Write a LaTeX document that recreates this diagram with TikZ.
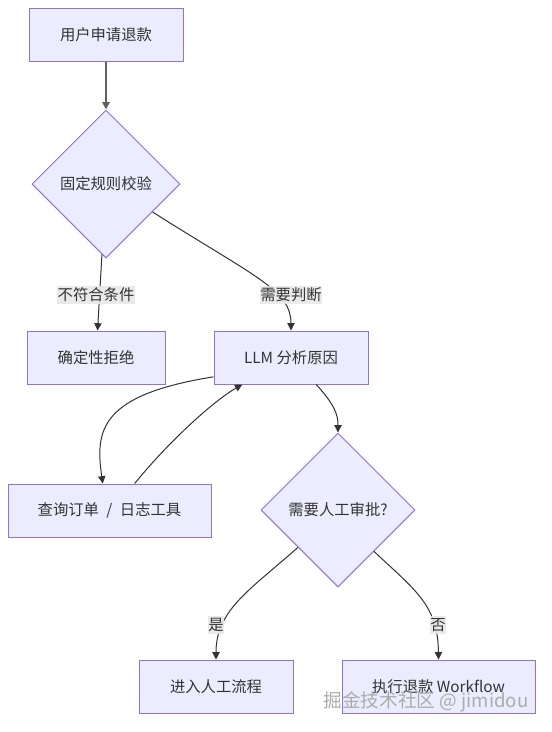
\documentclass[tikz,border=0pt]{standalone}
\usepackage{fontspec}
\setmainfont{Noto Sans CJK SC}
\usetikzlibrary{shapes.geometric,arrows.meta,positioning,calc}
\definecolor{boxfill}{HTML}{ECECFF}
\definecolor{boxline}{HTML}{9370DB}
\definecolor{ink}{HTML}{333333}
\definecolor{labelbg}{HTML}{E8E8E8}
\newcommand{\boxfont}{\fontsize{11.5}{14}\selectfont}

\begin{document}
\begin{tikzpicture}[x=0.75pt,y=0.75pt,
    proc/.style={rectangle,draw=boxline,fill=boxfill,line width=0.75pt,minimum height=39.75pt,inner sep=0pt,text=ink,font=\boxfont},
    decide/.style={diamond,aspect=1,draw=boxline,fill=boxfill,line width=0.75pt,inner sep=0pt,text=ink,font=\boxfont},
    flow/.style={draw=ink,line width=0.75pt,-{Triangle[length=5.5pt,width=5.5pt]}},
    elabel/.style={fill=labelbg,fill opacity=0.9,text opacity=1,text=ink,inner xsep=0.5pt,inner ysep=1.5pt,font=\boxfont}]
    \fill[white] (0,0) rectangle (551,-732);
    \useasboundingbox (0,0) rectangle (551,-732);

    % Process boxes
    \node[proc,minimum width=115.5pt] (apply) at (106,-34.5) {用户申请退款};
    \node[proc,minimum width=103.5pt] (reject) at (96,-357.5) {确定性拒绝};
    \node[proc,minimum width=115.5pt] (llm) at (291,-357.5) {LLM 分析原因};
    \node[proc,minimum width=152.25pt] (tools) at (109.5,-510.5) {查询订单\hspace{3pt} / \hspace{3pt}日志工具};
    \node[proc,minimum width=115.5pt] (manual) at (216,-686.5) {进入人工流程};
    \node[proc,minimum width=144.75pt] (refund) at (438.5,-686.5) {执行退款 Workflow};

    % Decisions
    \node[decide,minimum size=111pt] (rules) at (106,-184) {固定规则校验};
    \node[decide,minimum size=115.5pt] (approve) at (338,-510) {需要人工审批?};

    % Flows
    \draw[flow,draw=gray!75!black,line width=1.3pt] (apply) -- (rules);
    \draw[flow] (rules) -- (reject);
    \draw[flow] (rules.-31) .. controls (255,-277) and (291,-290) .. (llm.north);
    \draw[flow] (llm.194) .. controls (100,-395) and (95,-430) .. (tools.104);
    \draw[flow] (tools.47) .. controls (170,-440) and (215,-400) .. (llm.209);
    \draw[flow] (llm.-47) .. controls (335,-405) and (338,-415) .. (approve.north);
    \draw[flow] (approve.223) .. controls (250,-590) and (216,-610) .. (manual.north);
    \draw[flow] (approve.-49) .. controls (415,-590) and (438,-605) .. (refund.north);

    % Flow labels
    \node[elabel] (lreject) at (96,-295) {不符合条件};
    \node[elabel] (ljudge) at (291,-295) {需要判断};
    \node[elabel] (lyes) at (216,-625) {是};
    \node[elabel] (lno) at (438,-625) {否};

    % Watermark
    \node[text=gray!65,font=\fontsize{14}{16}\selectfont] (mark) at (426,-702) {掘金技术社区 @ jimidou};
\end{tikzpicture}
\end{document}
